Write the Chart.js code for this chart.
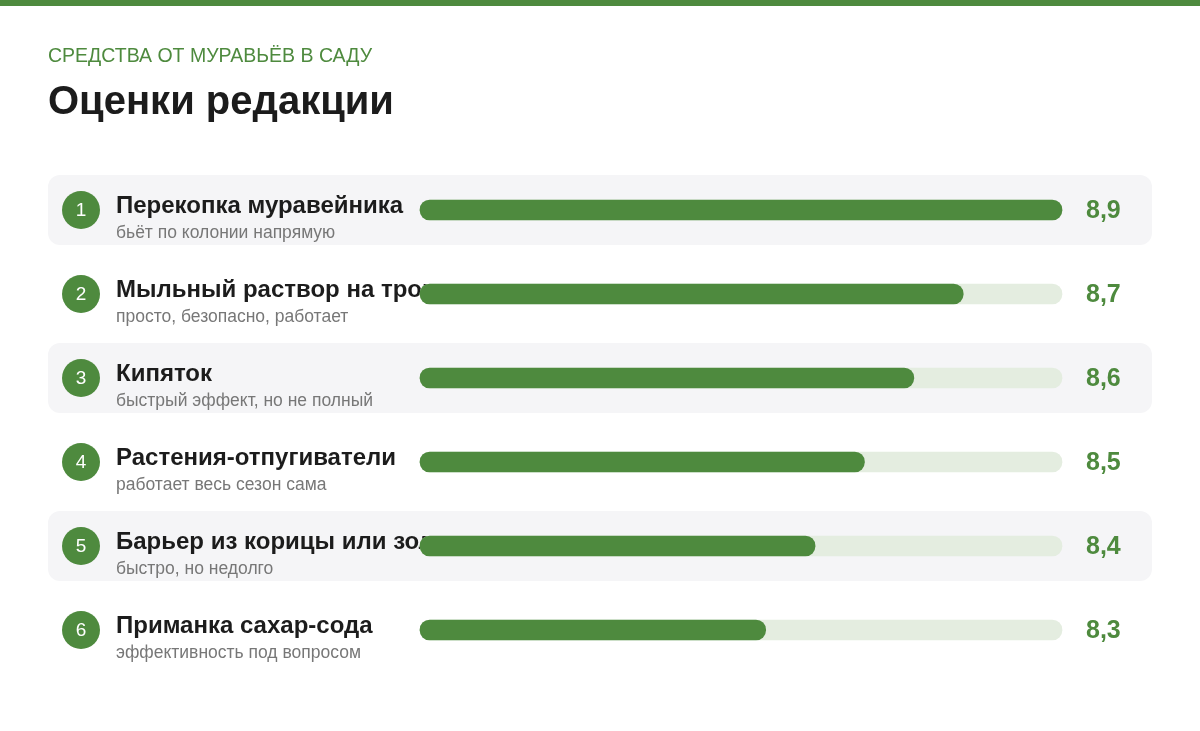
<!DOCTYPE html>
<html>
<head>
<meta charset="utf-8">
<script src="https://cdn.jsdelivr.net/npm/chart.js@4"></script>
<style>
  body { margin: 0; background: #fff; }
  canvas { display: block; }
</style>
</head>
<body>
<canvas id="chart" width="1200" height="731"></canvas>
<script>
// данные
const names = ['Перекопка муравейника', 'Мыльный раствор на тропи', 'Кипяток', 'Растения-отпугиватели', 'Барьер из корицы или золы', 'Приманка сахар-сода'];
const notes = ['бьёт по колонии напрямую', 'просто, безопасно, работает', 'быстрый эффект, но не полный', 'работает весь сезон сама', 'быстро, но недолго', 'эффективность под вопросом'];
const scores = [8.9, 8.7, 8.6, 8.5, 8.4, 8.3];
const trackMax = [8.9, 8.9, 8.9, 8.9, 8.9, 8.9];

const GREEN = '#4e8a3e';
const FONT = '"Liberation Sans", Arial, sans-serif';

function rrect(ctx, x, y, w, h, r) {
  ctx.beginPath();
  ctx.roundRect(x, y, w, h, r);
  ctx.fill();
}

const decor = {
  id: 'decor',
  beforeDatasetsDraw(chart) {
    const ctx = chart.ctx;
    const y = chart.scales.y;
    ctx.save();
    // полоса сверху
    ctx.fillStyle = GREEN;
    ctx.fillRect(0, 0, 1200, 6);
    ctx.textBaseline = 'alphabetic';
    ctx.fillStyle = GREEN;
    ctx.font = '19.5px ' + FONT;
    ctx.fillText('СРЕДСТВА ОТ МУРАВЬЁВ В САДУ', 48, 62);
    ctx.fillStyle = '#1c1c1c';
    ctx.font = 'bold 40px ' + FONT;
    ctx.fillText('Оценки редакции', 48, 114);

    names.forEach((n, i) => {
      const cy = y.getPixelForValue(i);
      if (i % 2 === 0) {
        ctx.fillStyle = '#f5f5f7';
        rrect(ctx, 48, cy - 35, 1104, 70, 12);
      }
      ctx.fillStyle = GREEN;
      ctx.beginPath();
      ctx.arc(81, cy, 19, 0, Math.PI * 2);
      ctx.fill();
      ctx.fillStyle = '#fff';
      ctx.font = '19px ' + FONT;
      ctx.textAlign = 'center';
      ctx.textBaseline = 'middle';
      ctx.fillText(String(i + 1), 81, cy + 1);
      ctx.textAlign = 'left';
      ctx.textBaseline = 'alphabetic';
      ctx.fillStyle = '#1c1c1c';
      ctx.font = 'bold 24px ' + FONT;
      ctx.fillText(n, 116, cy + 3);
      ctx.fillStyle = '#777';
      ctx.font = '17.5px ' + FONT;
      ctx.fillText(notes[i], 116, cy + 28);
    });
    ctx.restore();
  },
  afterDatasetsDraw(chart) {
    const ctx = chart.ctx;
    const y = chart.scales.y;
    ctx.save();
    ctx.fillStyle = GREEN;
    ctx.font = 'bold 25px ' + FONT;
    ctx.textBaseline = 'middle';
    scores.forEach((s, i) => {
      ctx.fillText(s.toFixed(1).replace('.', ','), 1086, y.getPixelForValue(i) + 1);
    });
    ctx.restore();
  }
};

new Chart(document.getElementById('chart'), {
  type: 'bar',
  data: {
    labels: names,
    datasets: [
      { data: scores, backgroundColor: GREEN, borderRadius: 10, borderSkipped: false, barThickness: 20, order: 1, clip: false },
      { data: trackMax, backgroundColor: '#e4ede0', borderRadius: 10, borderSkipped: false, barThickness: 20, order: 2, clip: false }
    ]
  },
  options: {
    indexAxis: 'y',
    responsive: false,
    animation: false,
    layout: { padding: { left: 420, right: 138, top: 168, bottom: 59 } },
    datasets: { bar: { grouped: false, base: 7.6 } },
    scales: {
      x: { display: false, min: 7.6, max: 8.9 },
      y: { display: false }
    },
    plugins: { legend: { display: false }, tooltip: { enabled: false } }
  },
  plugins: [decor]
});
</script>
</body>
</html>
